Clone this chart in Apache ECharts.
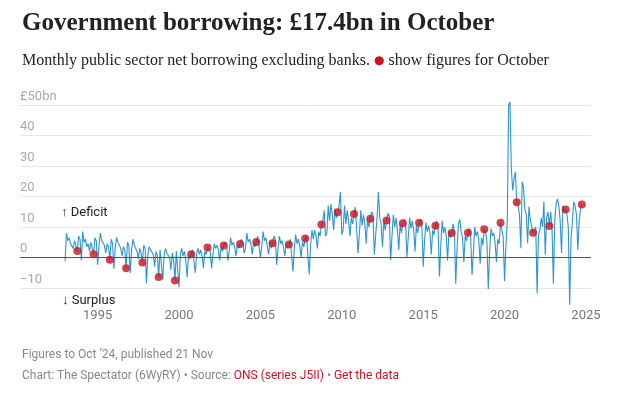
<!DOCTYPE html>
<html>
<head>
    <meta charset="utf-8">
    <title>Government borrowing</title>
    <script src="https://cdn.jsdelivr.net/npm/echarts@6/dist/echarts.min.js"></script>
    <style>
        html, body { margin: 0; padding: 0; background: #fff; }
        #chart { width: 620px; height: 396px; }
    </style>
</head>
<body>
<div id="chart"></div>
<script type="text/javascript">
    // monthly PSNB ex banks, £bn, Jan..Dec
    var startYear = 1993;
    var borrowing = [
        -1.3, 8.0, 5.5, 6.5, 4.5, 5.0, 3.0, 5.5, 4.0, 2.1, 7.0, 6.0,      // 1993
        -1.0, 8.5, 5.0, 6.0, 3.5, 4.5, 2.0, 5.0, 4.5, 1.1, 6.5, 5.5,      // 1994
        -2.4, 4.0, 8.0, 5.5, 5.0, 4.0, 1.5, 4.5, 3.5, -0.7, 6.0, 4.5,     // 1995
        -3.7, 3.5, 6.5, 5.0, 4.5, 3.0, 0.5, 3.5, 2.5, -3.5, 5.0, 4.0,     // 1996
        -5.1, 2.5, 6.0, 4.0, 3.5, 2.0, -0.5, 3.0, 1.5, -1.6, 4.0, 3.0,    // 1997
        -8.5, 1.0, 3.5, 2.5, 2.0, 1.0, -3.0, 2.0, 0.5, -6.4, 2.5, 3.0,    // 1998
        -7.3, 0.5, 3.0, 1.5, 2.0, 0.0, -4.0, 1.5, -1.0, -7.5, 2.0, 2.5,   // 1999
        -9.7, 1.0, 3.0, 0.5, 2.0, -1.0, -6.5, 1.0, -0.5, 1.1, 2.5, 2.0,   // 2000
        -5.0, 1.5, 3.0, 1.0, 2.5, 0.5, -3.5, 2.0, 1.0, 3.3, 3.5, 2.0,     // 2001
        -3.5, 1.0, 4.5, 3.0, 4.0, 2.5, -1.0, 3.5, 2.0, 3.9, 5.0, 4.0,     // 2002
        -1.0, 2.0, 6.5, 4.0, 5.0, 3.5, 0.5, 4.0, 3.0, 4.4, 6.0, 5.0,      // 2003
        1.4, 3.0, 8.0, 5.0, 6.0, 4.5, 1.0, 5.0, 3.5, 5.1, 7.0, 6.5,       // 2004
        0.0, 3.5, 8.5, 5.5, 6.5, 4.0, 1.0, 5.5, 3.0, 4.7, 7.0, 6.0,       // 2005
        -2.4, 3.0, 7.0, 4.5, 5.5, 3.5, 0.5, 4.5, 3.0, 4.3, 6.0, 5.5,      // 2006
        -4.6, 3.0, 7.5, 4.5, 6.0, 4.0, 0.0, 5.0, 3.5, 6.2, 7.0, 7.0,      // 2007
        -5.5, 4.0, 9.0, 6.0, 9.0, 7.0, 3.0, 8.5, 7.0, 10.8, 12.0, 15.5,   // 2008
        7.0, 8.0, 17.0, 12.0, 17.5, 14.0, 9.0, 16.0, 13.0, 14.8, 17.0, 21.5, // 2009
        7.5, 9.0, 17.0, 11.0, 15.5, 12.0, 7.0, 13.0, 11.0, 14.3, 16.5, 17.0, // 2010
        1.4, 8.0, 15.5, 10.5, 14.0, 11.0, 4.5, 12.5, 10.0, 12.7, 15.0, 14.0, // 2011
        0.9, 7.5, 13.0, 21.5, 13.0, 11.0, 3.5, 12.0, 9.0, 12.1, 14.5, 13.5,  // 2012
        -0.8, 7.0, 14.0, 10.0, 13.0, 9.0, 2.5, 11.0, 8.0, 11.2, 12.5, 11.5,  // 2013
        0.2, 6.5, 13.0, 9.5, 12.0, 9.0, 2.0, 10.5, 8.0, 11.4, 12.5, 10.5,    // 2014
        -3.0, 5.5, 11.5, 8.5, 10.5, 8.0, 1.0, 9.0, 7.5, 10.4, 12.0, 9.5,     // 2015
        -6.2, 4.0, 12.0, 8.0, 10.0, 7.0, -1.0, 8.5, 6.5, 8.0, 11.0, 8.5,     // 2016
        -8.6, 3.0, 11.0, 12.5, 8.5, 6.5, -1.5, 7.0, 5.5, 8.1, 9.5, 7.0,      // 2017
        -5.7, 1.5, 10.0, 7.0, 8.5, 5.5, -2.0, 6.5, 4.0, 9.3, 8.5, 5.0,       // 2018
        -10.3, 2.0, 9.5, 7.0, 8.0, 5.0, -1.5, 6.0, 4.5, 11.4, 9.0, 6.5,      // 2019
        -7.8, 4.0, 12.0, 50.0, 51.0, 29.0, 22.0, 26.0, 28.0, 18.1, 17.0, 14.0, // 2020
        3.0, 24.8, 23.0, 15.6, 14.0, 4.7, 16.7, 12.3, 12.0, 8.1, 8.5, 10.0,  // 2021
        -11.8, 7.4, 9.0, 12.9, 10.0, 18.3, 0.9, 13.0, 15.0, 10.3, 15.0, 9.0, // 2022
        -8.6, 12.0, 17.8, 19.2, 17.0, 12.0, 1.4, 17.0, 15.0, 15.7, 14.0, 10.0, // 2023
        -15.5, 6.0, 12.0, 18.3, 17.0, 14.0, 2.5, 12.0, 16.0, 17.4            // 2024
    ];
    var yearTicks = [1995, 2000, 2005, 2010, 2015, 2020, 2025];
    var valueTicks = [-10, 0, 10, 20, 30, 40, 50];
    var highlightMonth = 9; // October

    var lineColor = '#2b95d6';
    var dotColor = '#c8141d';

    var linePoints = [];
    var octPoints = [];
    for (var i = 0; i < borrowing.length; i++) {
        var x = startYear + Math.floor(i / 12) + (i % 12) / 12;
        linePoints.push([x, borrowing[i]]);
        if (i % 12 === highlightMonth) {
            octPoints.push([x, borrowing[i]]);
        }
    }

    var myChart = echarts.init(document.getElementById('chart'));
    myChart.setOption({
        animation: false,
        title: [
            {
                text: 'Government borrowing: £17.4bn in October',
                left: 17, top: 6,
                textStyle: {fontFamily: 'Liberation Serif', fontSize: 25, fontWeight: 'bold', color: '#222'}
            },
            {
                text: 'Monthly public sector net borrowing excluding banks. {dot|●} show figures for October',
                left: 17, top: 48,
                textStyle: {
                    fontFamily: 'Liberation Serif', fontSize: 16, fontWeight: 'normal', color: '#222',
                    rich: {dot: {color: dotColor, fontSize: 12, fontFamily: 'DejaVu Sans'}}
                }
            },
            {
                text: 'Figures to Oct \u201924, published 21 Nov',
                left: 17, top: 344,
                textStyle: {fontFamily: 'Roboto', fontSize: 12, fontWeight: 'normal', color: '#888'}
            },
            {
                text: 'Chart: The Spectator (6WyRY) \u2022 Source: {red|ONS (series J5II)} \u2022 {red|Get the data}',
                left: 17, top: 365,
                textStyle: {
                    fontFamily: 'Roboto', fontSize: 12, fontWeight: 'normal', color: '#888',
                    rich: {red: {color: '#d4121e', fontFamily: 'Roboto', fontSize: 12}}
                }
            }
        ],
        grid: {left: 20, right: 29, top: 105, bottom: 108},
        xAxis: {
            type: 'value',
            min: 1990.23,
            max: 2025.31,
            axisLine: {show: false},
            axisTick: {show: false},
            splitLine: {show: false},
            axisLabel: {
                customValues: yearTicks,
                margin: 21,
                color: '#777',
                fontFamily: 'Roboto',
                fontSize: 13,
                formatter: function (v) { return String(v); }
            }
        },
        yAxis: {
            type: 'value',
            min: valueTicks[0],
            max: valueTicks[valueTicks.length - 1],
            interval: 10,
            axisLine: {show: false},
            axisTick: {show: false},
            splitLine: {lineStyle: {color: '#e6e6e6', width: 1}},
            axisLabel: {
                inside: true,
                margin: 0,
                verticalAlign: 'bottom',
                padding: [0, 0, 2, 0],
                color: '#aaa',
                fontFamily: 'Roboto',
                fontSize: 13,
                formatter: function (v) {
                    if (v === 50) return '£50bn';
                    if (v < 0) return '\u2212' + Math.abs(v);
                    return String(v);
                }
            }
        },
        graphic: [
            {type: 'text', left: 61, top: 206, style: {text: '\u2191 Deficit', fill: '#222', font: '13px Roboto'}},
            {type: 'text', left: 62, top: 294, style: {text: '\u2193 Surplus', fill: '#222', font: '13px Roboto'}}
        ],
        series: [
            {
                name: 'borrowing',
                type: 'line',
                data: linePoints,
                clip: false,
                showSymbol: false,
                lineStyle: {color: lineColor, width: 1.1},
                z: 2,
                markLine: {
                    silent: true,
                    symbol: ['none', 'none'],
                    label: {show: false},
                    lineStyle: {color: '#555', width: 1, type: 'solid'},
                    data: [{yAxis: 0}]
                }
            },
            {
                name: 'October',
                type: 'scatter',
                data: octPoints,
                clip: false,
                symbolSize: 8,
                itemStyle: {color: dotColor},
                z: 3
            }
        ]
    });
</script>
</body>
</html>
